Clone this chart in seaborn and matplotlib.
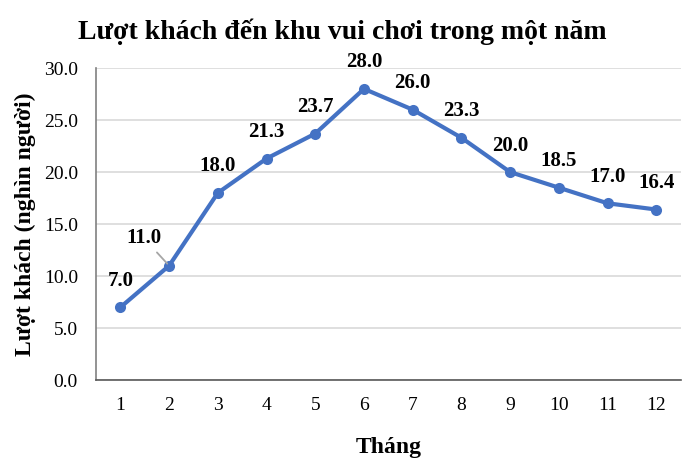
import matplotlib
matplotlib.use('Agg')
import matplotlib.pyplot as plt
import seaborn as sns
from pandas import DataFrame

months = list(range(1, 13))
visitors = [7.0, 11.0, 18.0, 21.3, 23.7, 28.0, 26.0, 23.3, 20.0, 18.5, 17.0, 16.4]
y_ticks = [0, 5, 10, 15, 20, 25, 30]

sns.set_theme(style="whitegrid")
plt.rcParams['font.family'] = ['Liberation Serif', 'DejaVu Serif']
plt.rcParams['text.color'] = 'black'
plt.rcParams['axes.labelcolor'] = 'black'

df = DataFrame({'month': months, 'visitors': visitors})

fig = plt.figure(figsize=(6.91, 4.63), dpi=100)
ax = fig.add_axes([0.139, 0.179, 0.846, 0.674])

sns.lineplot(x='month', y='visitors', data=df, ax=ax, color='#4472C4',
             linewidth=3, marker='o', markersize=8, markeredgewidth=0)

for m, v in zip(months, visitors):
    if m == 2:
        ax.annotate(f'{v:.1f}', xy=(m, v), xytext=(1.48, 13.65),
                    ha='center', va='center', fontsize=15, fontweight='bold',
                    arrowprops=dict(arrowstyle='-', color='#a6a6a6', lw=1.3,
                                    shrinkA=1, shrinkB=2))
    else:
        ax.annotate(f'{v:.1f}', xy=(m, v), xytext=(0, 19), textcoords='offset points',
                    ha='center', va='center', fontsize=15, fontweight='bold')

ax.set_xlim(0.5, 12.5)
ax.set_ylim(0, 30)
ax.set_xticks(months)
ax.set_yticks(y_ticks)
ax.set_yticklabels([f'{t:.1f}' for t in y_ticks])
ax.tick_params(axis='both', labelsize=14, colors='black', length=0)
ax.tick_params(axis='x', pad=12)
ax.tick_params(axis='y', pad=13)
ax.grid(axis='y', color='#d9d9d9', linewidth=1.2)
ax.grid(axis='x', visible=False)
ax.set_facecolor('white')
for s in ['top', 'right']:
    ax.spines[s].set_visible(False)
ax.spines['left'].set_color('#808080')
ax.spines['left'].set_linewidth(1.2)
ax.spines['bottom'].set_color('#595959')
ax.spines['bottom'].set_linewidth(1.2)

ax.set_xlabel('Tháng', fontsize=17, fontweight='bold', labelpad=17)
ax.set_ylabel('Lượt khách (nghìn người)', fontsize=17, fontweight='bold', labelpad=6)
fig.suptitle('Lượt khách đến khu vui chơi trong một năm', fontsize=20,
             fontweight='bold', x=0.495, y=0.96)

fig.savefig('out.png', dpi=100)
